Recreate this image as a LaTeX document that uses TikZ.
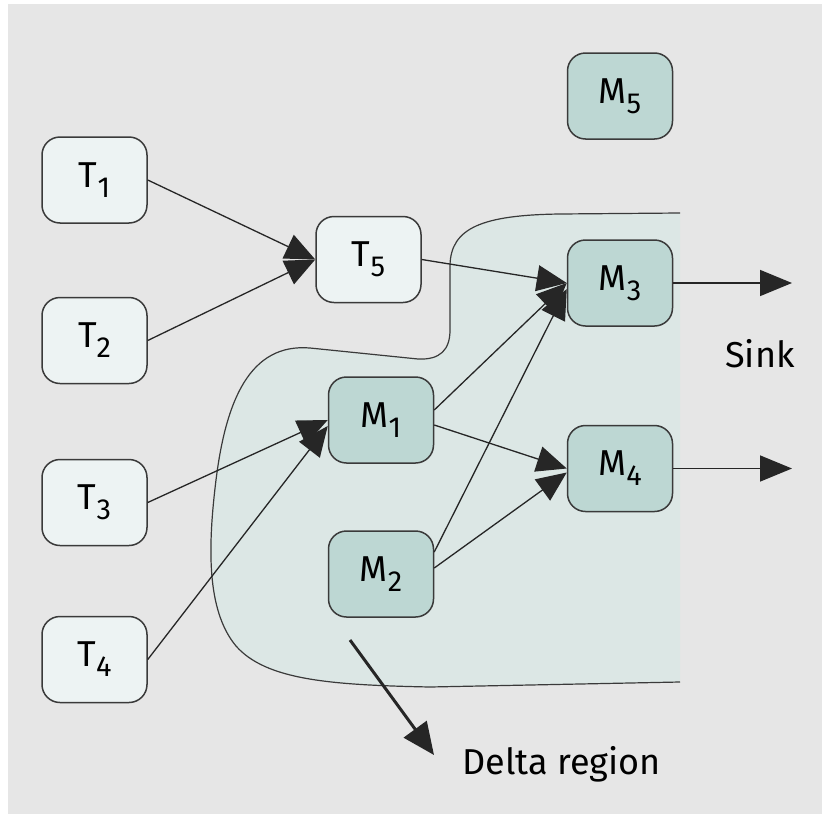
\documentclass[tikz,border=0pt]{standalone}
\usepackage{fontspec}
\setmainfont{Fira Sans}
\usepackage{xcolor}
\usetikzlibrary{arrows.meta}

\definecolor{bggray}{HTML}{E6E6E6}
\definecolor{deltafill}{HTML}{DCE7E5}
\definecolor{tfill}{HTML}{EDF3F3}
\definecolor{mfill}{HTML}{BDD7D3}
\definecolor{boxline}{HTML}{3A3A3A}

\newcommand{\lowsub}[1]{\raisebox{-10pt}{\fontsize{29}{29}\selectfont #1}}
\newcommand{\deltaoutline}{(680,213) -- (560,214) .. controls (482,215) and (451,228) .. (450,265) -- (450,330) .. controls (450,350) and (440,360) .. (418,359) -- (310,348) .. controls (250,343) and (226,400) .. (216,480) .. controls (208,545) and (206,610) .. (236,646) .. controls (266,680) and (330,685) .. (430,687) -- (680,682)}

\begin{document}
\begin{tikzpicture}[x=1pt,y=-1pt,
	tbox/.style={draw=boxline, fill=tfill, line width=1.5pt, rounded corners=18pt, minimum width=105pt, minimum height=86pt, inner sep=0pt, font=\fontsize{36}{40}\selectfont},
	mbox/.style={tbox, fill=mfill},
	link/.style={line width=1.3pt, draw=black!85, -{Triangle[length=30pt,width=26pt]}},
	sinkarrow/.style={line width=1.6pt, draw=black!85, -{Triangle[length=32pt,width=26pt]}},
	pointer/.style={line width=3pt, draw=black!85, -{Triangle[length=32pt,width=28pt]}},
	lbl/.style={font=\fontsize{36}{40}\selectfont, inner sep=0pt}]
	\useasboundingbox (0,0) rectangle (822,814);
	\fill[bggray] (8,4) rectangle (822,814);

	% delta region
	\fill[deltafill] \deltaoutline -- cycle;
	\draw[boxline, line width=1.2pt] \deltaoutline;

	% T nodes
	\node[tbox] (T1) at (94.5,180) {T\lowsub{1}};
	\node[tbox] (T2) at (94.5,340.5) {T\lowsub{2}};
	\node[tbox] (T3) at (94.5,502.5) {T\lowsub{3}};
	\node[tbox] (T4) at (94.5,659.5) {T\lowsub{4}};
	\node[tbox] (T5) at (368.5,259.5) {T\lowsub{5}};

	% M nodes
	\node[mbox] (M1) at (381,420) {M\lowsub{1}};
	\node[mbox] (M2) at (381,574) {M\lowsub{2}};
	\node[mbox] (M3) at (620,283) {M\lowsub{3}};
	\node[mbox] (M4) at (620,468.5) {M\lowsub{4}};
	\node[mbox] (M5) at (620,96) {M\lowsub{5}};

	% links
	\draw[link] (T1.east) -- (T5.west);
	\draw[link] (T2.east) -- (T5.west);
	\draw[link] (T3.east) -- (M1.west);
	\draw[link] (T4.east) -- ([yshift=-6pt]M1.west);
	\draw[link] (T5.east) -- (M3.west);
	\draw[link] ([yshift=10pt]M1.east) -- (M3.west);
	\draw[link] ([yshift=-5pt]M1.east) -- (M4.west);
	\draw[link] ([yshift=22pt]M2.east) -- ([yshift=-6pt]M3.west);
	\draw[link] ([yshift=6pt]M2.east) -- ([yshift=-4pt]M4.west);

	% sink
	\coordinate (s3) at (792,283);
	\coordinate (s4) at (792,468.5);
	\draw[sinkarrow] (M3.east) -- (s3);
	\draw[sinkarrow] (M4.east) -- (s4);
	\node[lbl] (sink) at (760,354) {Sink};

	% delta label
	\coordinate (dstart) at (350,640);
	\coordinate (dtip) at (434,755);
	\draw[pointer] (dstart) -- (dtip);
	\node[lbl, anchor=west] (dlabel) at (462,764) {Delta region};
\end{tikzpicture}
\end{document}
